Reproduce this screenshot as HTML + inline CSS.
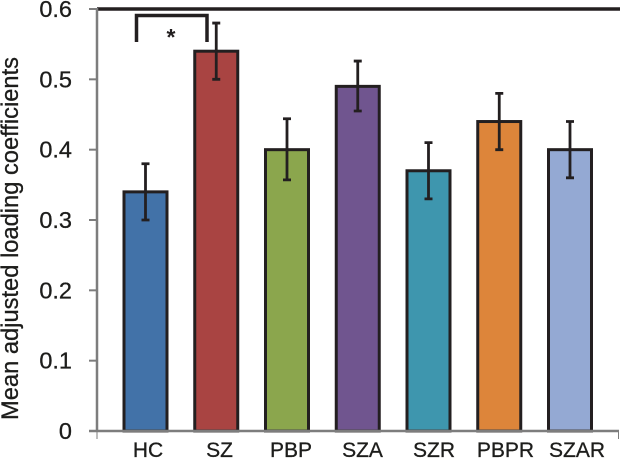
<!DOCTYPE html>
<html>
<head>
<meta charset="utf-8">
<style>
html,body{margin:0;padding:0;background:#fff;}
svg{display:block;font-family:"Liberation Sans",Arial,sans-serif;}
</style>
</head>
<body>
<svg id="chart" width="620" height="458" viewBox="0 0 620 458" xmlns="http://www.w3.org/2000/svg">
<g id="bars"></g>
<g id="axes"></g>
<text transform="translate(18,238.500) rotate(-90)" text-anchor="middle" font-size="23.700" fill="#1d1d1b" stroke="#1d1d1b" stroke-width="0.300">Mean adjusted loading coefficients</text>
<path d="M136.500 42V15.500H207V42" fill="none" stroke="#231f20" stroke-width="3.500"/>
<text x="171" y="45" text-anchor="middle" font-size="23" font-weight="bold" fill="#231f20">*</text>
</svg>
<script>
var categories = ['HC', 'SZ', 'PBP', 'SZA', 'SZR', 'PBPR', 'SZAR'];
var meanValues = [0.34, 0.54, 0.40, 0.49, 0.37, 0.44, 0.40];
var errorLow = [0.30, 0.50, 0.357, 0.455, 0.33, 0.40, 0.36];
var errorHigh = [0.38, 0.58, 0.444, 0.526, 0.41, 0.48, 0.44];
var barColors = ['#4272a8', '#a94442', '#8ba64d', '#70558f', '#3e96ae', '#dd853a', '#94a9d3'];
var yTicks = [0, 0.1, 0.2, 0.3, 0.4, 0.5, 0.6];
var yTickLabels = ['0', '0.1', '0.2', '0.3', '0.4', '0.5', '0.6'];

var NS = 'http://www.w3.org/2000/svg';
function yScale(v) { return 431 - v * (422 / 0.6); }
function xScale(i) { return 145.5 + i * 70.75; }
function labelX(i) { return 148 + i * 71.5; }
function make(parent, tag, attrs) {
  var el = document.createElementNS(NS, tag);
  for (var k in attrs) el.setAttribute(k, attrs[k]);
  parent.appendChild(el);
  return el;
}
var barsG = document.getElementById('bars');
var axesG = document.getElementById('axes');
var ink = '#231f20';
var axisGrey = '#7d7d7d';

categories.forEach(function (cat, i) {
  var cx = xScale(i);
  var top = yScale(meanValues[i]);
  var bar = make(barsG, 'rect', { x: cx - 21.5, y: top, width: 43, height: yScale(0) - top, fill: barColors[i], stroke: ink, 'stroke-width': 3 });
  
  
  var yH = yScale(errorHigh[i]);
  var yL = yScale(errorLow[i]);
  var err = make(barsG, 'path', { d: 'M' + cx + ' ' + yH + 'V' + yL + 'M' + (cx - 4) + ' ' + yH + 'H' + (cx + 4) + 'M' + (cx - 4) + ' ' + yL + 'H' + (cx + 4), fill: 'none', stroke: ink, 'stroke-width': 2.8 });
  
  
  var label = make(axesG, 'text', { x: labelX(i), y: 457, 'text-anchor': 'middle', 'font-size': 21, fill: '#1d1d1b', stroke: '#1d1d1b', 'stroke-width': 0.3 });
  label.textContent = cat;
  
  
});

var topLine = make(axesG, 'line', { x1: 97, x2: 620, y1: 9, y2: 9, stroke: ink, 'stroke-width': 3.5 });


var yAxis = make(axesG, 'line', { x1: 97, x2: 97, y1: 8, y2: 431, stroke: axisGrey, 'stroke-width': 2.5 });


var xAxis = make(axesG, 'line', { x1: 89, x2: 619, y1: 431, y2: 431, stroke: axisGrey, 'stroke-width': 2.5 });


var endL = make(axesG, 'line', { x1: 97, x2: 97, y1: 431, y2: 439, stroke: axisGrey, 'stroke-width': 1 });


var endR = make(axesG, 'line', { x1: 618.5, x2: 618.5, y1: 431, y2: 439, stroke: axisGrey, 'stroke-width': 1 });



yTicks.forEach(function (t, i) {
  var y = yScale(t);
  var tick = make(axesG, 'line', { x1: 89, x2: 97, y1: y, y2: y, stroke: axisGrey, 'stroke-width': 2 });
  
  
  var lbl = make(axesG, 'text', { x: 72, y: y + 8, 'text-anchor': 'end', 'font-size': 23.5, fill: '#1d1d1b', stroke: '#1d1d1b', 'stroke-width': 0.3 });
  lbl.textContent = yTickLabels[i];
  
  
});
</script>
</body>
</html>
